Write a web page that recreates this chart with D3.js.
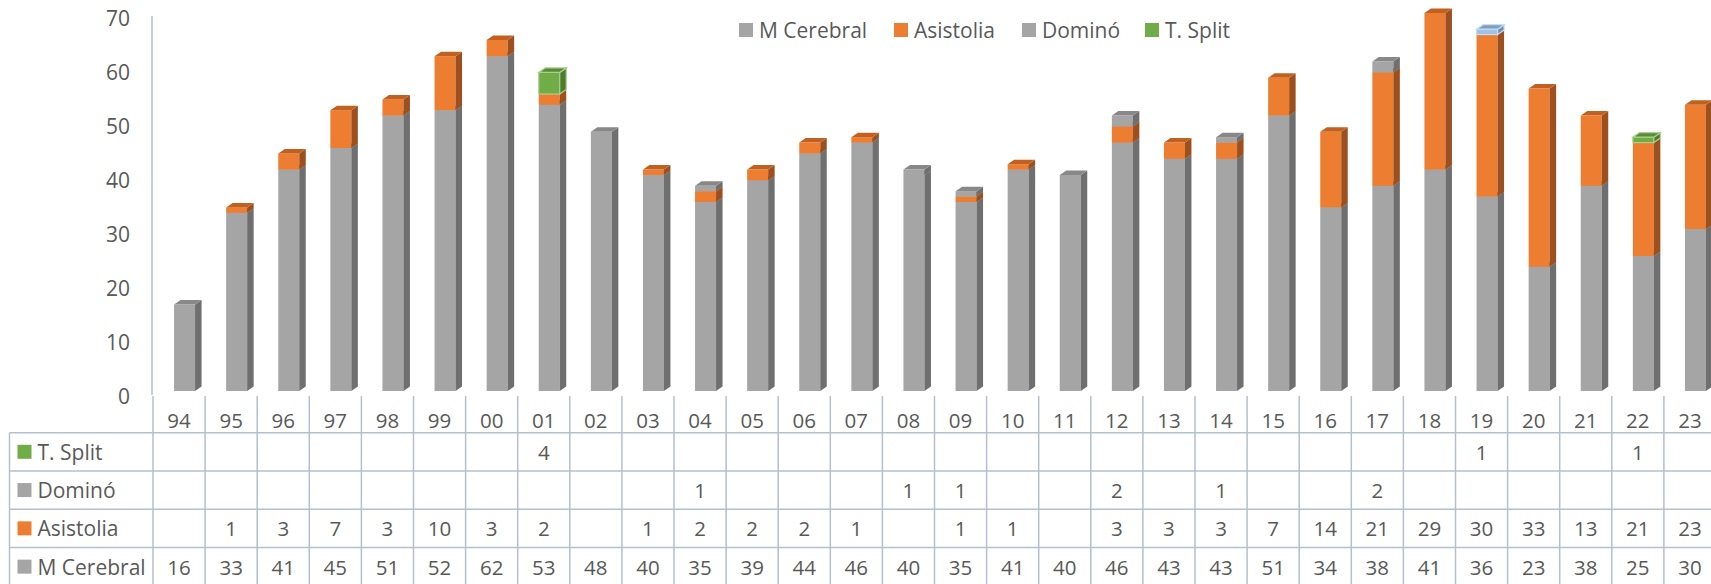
<!DOCTYPE html>
<html>
<head>
<meta charset="utf-8">
<script src="https://cdn.jsdelivr.net/npm/d3@7"></script>
<style>
  html, body { margin: 0; padding: 0; background: #fff; overflow: hidden; }
  text { font-family: "Open Sans", "Noto Sans", sans-serif; fill: #595959; }
</style>
</head>
<body>
<svg id="chart"></svg>
<script>
// datos
const categories = ['94','95','96','97','98','99','00','01','02','03','04','05','06','07','08','09','10','11','12','13','14','15','16','17','18','19','20','21','22','23'];
const mCerebral = [16,33,41,45,51,52,62,53,48,40,35,39,44,46,40,35,41,40,46,43,43,51,34,38,41,36,23,38,25,30];
const asistolia = [null,1,3,7,3,10,3,2,null,1,2,2,2,1,null,1,1,null,3,3,3,7,14,21,29,30,33,13,21,23];
const domino    = [null,null,null,null,null,null,null,null,null,null,1,null,null,null,1,1,null,null,2,null,1,null,null,2,null,null,null,null,null,null];
const tSplit    = [null,null,null,null,null,null,null,4,null,null,null,null,null,null,null,null,null,null,null,null,null,null,null,null,null,1,null,null,1,null];
const yTicks = [0,10,20,30,40,50,60,70];

const width = 1711, height = 584;
const colW = 52.1, x0 = 153;
const depthX = 6.5, depthY = 4.5, lift = 6;
const barW = 21;

const series = [
  { name: 'M Cerebral', values: mCerebral, front: '#a5a5a5', side: '#6f6f6f', top: '#888888' },
  { name: 'Asistolia', values: asistolia, front: '#ed7d31', side: '#9c501f', top: '#c2611f' },
  { name: 'Dominó', values: domino, front: '#a5a5a5', side: '#6f6f6f', top: '#888888' },
  { name: 'T. Split', values: tSplit, front: '#70ad47', side: '#4c7a2f', top: '#5a8c38' }
];

const svg = d3.select('#chart')
  .attr('width', width)
  .attr('height', height);

const x = d3.scaleBand()
  .domain(categories)
  .range([x0, x0 + colW * categories.length])
  .padding(0);

const y = d3.scaleLinear()
  .domain([0, 70])
  .range([397, 19]);

// eje Y
const yAxis = svg.append('g')
  .attr('transform', `translate(${x0 - 1},0)`)
  .call(d3.axisLeft(y).tickValues(yTicks).tickSize(0).tickPadding(22));
yAxis.select('.domain').remove();
yAxis.selectAll('text')
  .style('font-size', '21px')
  .style('fill', '#595959')
  .style('font-family', '"Open Sans", sans-serif');

svg.append('line')
  .attr('x1', x0 - 1).attr('x2', x0 - 1)
  .attr('y1', 16).attr('y2', 395)
  .attr('stroke', '#b4c0d4').attr('stroke-width', 1.5);

// columnas 3D apiladas
const bars = svg.append('g');
categories.forEach((cat, i) => {
  let acc = 0;
  const left = x(cat) + x.bandwidth() / 2 - 5;
  series.forEach(s => {
    const v = s.values[i];
    if (!v) return;
    const yb = y(acc) - lift;
    const yt = y(acc + v) - lift;
    acc += v;
    let front = s.front, side = s.side, top = s.top;
    // punto de 2019 en T. Split aparece azul claro
    if (s.name === 'T. Split' && cat === '19') {
      front = '#9dc3e6'; side = '#6f8fb0'; top = '#7f9fbf';
    }
    const glow = s.name === 'T. Split' ? (cat === '19' ? '#c5dcf2' : '#a9d18e') : 'none';
    bars.append('rect')
      .attr('x', left).attr('y', yt)
      .attr('width', barW).attr('height', yb - yt)
      .attr('fill', front)
      .attr('stroke', glow).attr('stroke-width', 1.2);
    bars.append('path')
      .attr('d', `M${left + barW},${yb} L${left + barW + depthX},${yb - depthY} L${left + barW + depthX},${yt - depthY} L${left + barW},${yt} Z`)
      .attr('fill', side)
      .attr('stroke', glow).attr('stroke-width', 1.2);
    bars.append('path')
      .attr('d', `M${left},${yt} L${left + depthX},${yt - depthY} L${left + barW + depthX},${yt - depthY} L${left + barW},${yt} Z`)
      .attr('fill', top)
      .attr('stroke', glow).attr('stroke-width', 1.2);
  });
});

// leyenda
const legendItems = [
  { name: 'M Cerebral', color: '#a5a5a5', x: 739 },
  { name: 'Asistolia', color: '#ed7d31', x: 894 },
  { name: 'Dominó', color: '#a5a5a5', x: 1022 },
  { name: 'T. Split', color: '#70ad47', x: 1145 }
];
const legend = svg.append('g');
legendItems.forEach(d => {
  legend.append('rect')
    .attr('x', d.x).attr('y', 23)
    .attr('width', 14).attr('height', 14)
    .attr('fill', d.color);
  legend.append('text')
    .attr('x', d.x + 20).attr('y', 30)
    .attr('dominant-baseline', 'central')
    .style('font-size', '21px')
    .text(d.name);
});

// tabla de datos
const gridColor = '#b4bfcf';
const rowTops = [432.7, 470.9, 509.2, 547.5, 585.8];
const table = svg.append('g');
const xEnd = x0 + colW * categories.length;

rowTops.forEach(ry => {
  table.append('line')
    .attr('x1', 9.5).attr('x2', xEnd)
    .attr('y1', ry).attr('y2', ry)
    .attr('stroke', gridColor).attr('stroke-width', 1.5);
});
table.append('line')
  .attr('x1', 9.5).attr('x2', 9.5)
  .attr('y1', rowTops[0]).attr('y2', height)
  .attr('stroke', gridColor).attr('stroke-width', 1.5);
d3.range(categories.length + 1).forEach(k => {
  table.append('line')
    .attr('x1', x0 + k * colW).attr('x2', x0 + k * colW)
    .attr('y1', 396).attr('y2', height)
    .attr('stroke', gridColor).attr('stroke-width', 1.5);
});

// etiquetas de categoría
table.selectAll('text.cat')
  .data(categories)
  .enter()
  .append('text')
  .attr('class', 'cat')
  .attr('x', d => x(d) + x.bandwidth() / 2)
  .attr('y', 420)
  .attr('text-anchor', 'middle')
  .attr('dominant-baseline', 'central')
  .style('font-size', '20.5px')
  .text(d => d);

const tableRows = [series[3], series[2], series[1], series[0]];
tableRows.forEach((s, r) => {
  const cy = (rowTops[r] + rowTops[r + 1]) / 2;
  table.append('rect')
    .attr('x', 17.5).attr('y', cy - 7)
    .attr('width', 14).attr('height', 14)
    .attr('fill', s.front);
  table.append('text')
    .attr('x', 37.5).attr('y', cy)
    .attr('dominant-baseline', 'central')
    .style('font-size', '21px')
    .text(s.name);
  s.values.forEach((v, i) => {
    if (v == null) return;
    table.append('text')
      .attr('x', x(categories[i]) + x.bandwidth() / 2)
      .attr('y', cy)
      .attr('text-anchor', 'middle')
      .attr('dominant-baseline', 'central')
      .style('font-size', '20.5px')
      .text(v);
  });
});
</script>
</body>
</html>
